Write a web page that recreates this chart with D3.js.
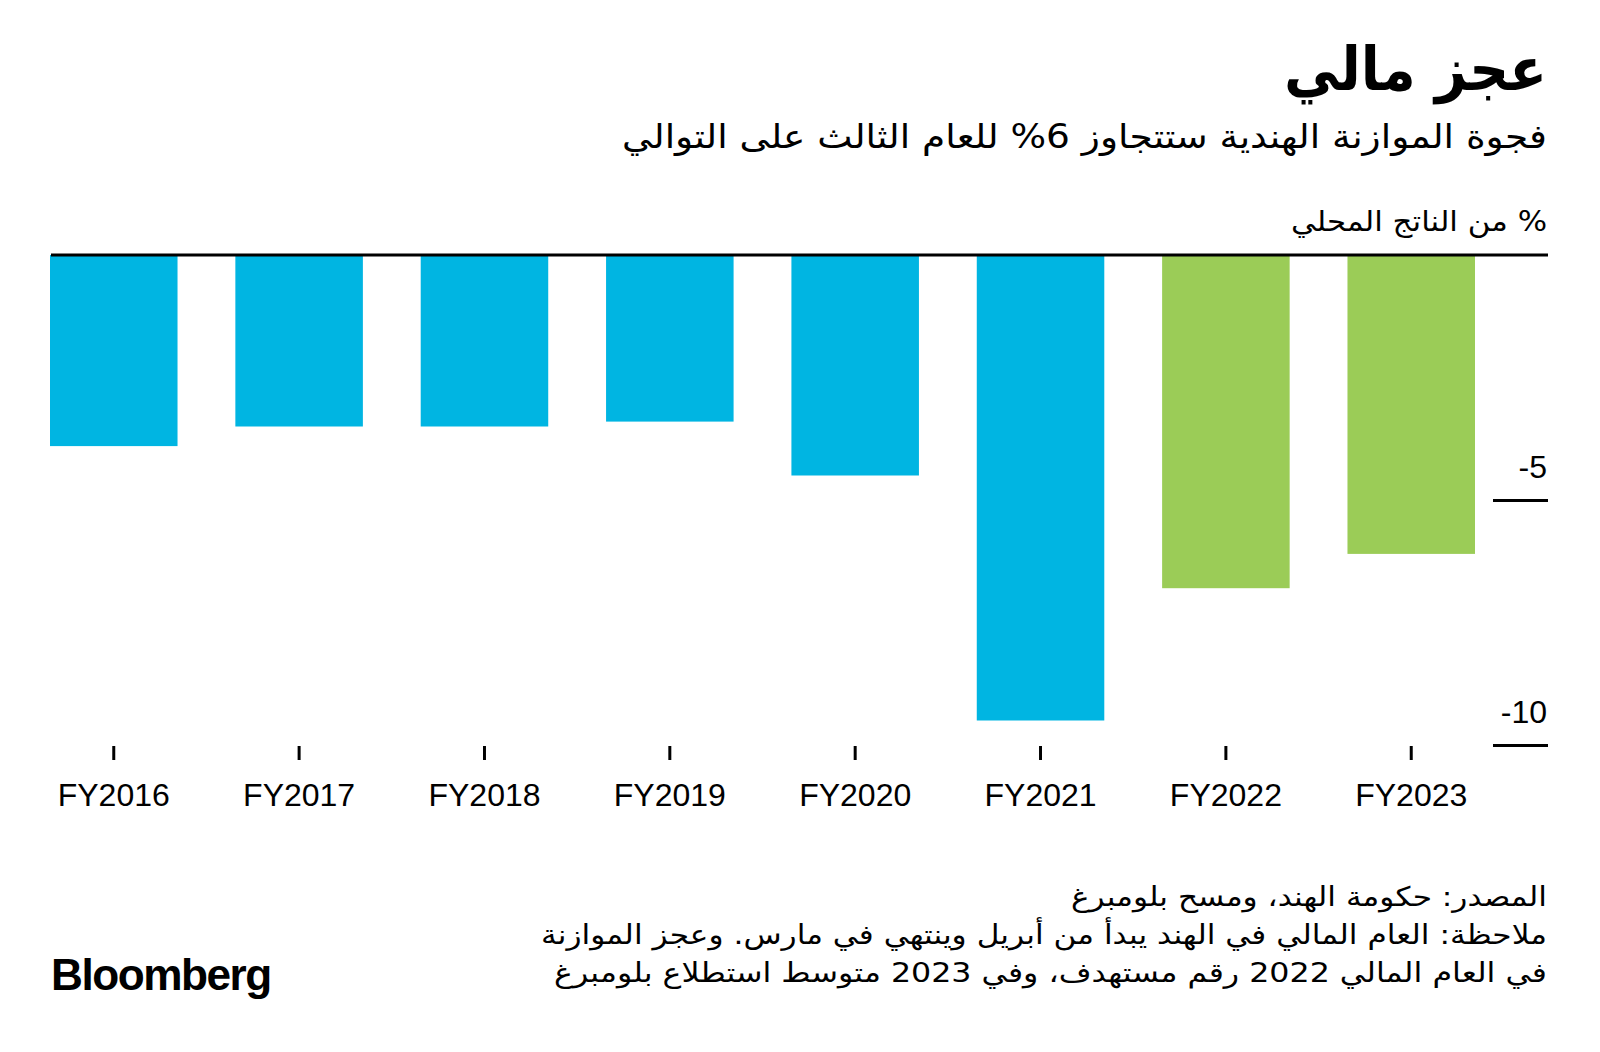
<!DOCTYPE html>
<html lang="ar">
<head>
<meta charset="utf-8">
<script src="https://cdn.jsdelivr.net/npm/d3@7"></script>
<style>
  html, body { margin: 0; padding: 0; background: #fff; }
  svg { display: block; }
  .ar { font-family: "DejaVu Sans", sans-serif; fill: #000; }
  .lat { font-family: "Liberation Sans", Arial, sans-serif; fill: #000; }
</style>
</head>
<body>
<svg id="chart" width="1600" height="1052"></svg>
<script>
// ---- data ----
const categories = ["FY2016", "FY2017", "FY2018", "FY2019", "FY2020", "FY2021", "FY2022", "FY2023"];
const deficit = [-3.9, -3.5, -3.5, -3.4, -4.5, -9.5, -6.8, -6.1];
const seriesKind = ["actual", "actual", "actual", "actual", "actual", "actual", "estimate", "estimate"];
const yTickValues = [-5, -10];
const yTickLabels = ["-5", "-10"];

const titleText = "عجز مالي";
const subtitleText = "فجوة الموازنة الهندية ستتجاوز 6% للعام الثالث على التوالي";
const unitText = "% من الناتج المحلي";
const footerLines = [
  "المصدر: حكومة الهند، ومسح بلومبرغ",
  "ملاحظة: العام المالي في الهند يبدأ من أبريل وينتهي في مارس. وعجز الموازنة",
  "في العام المالي 2022 رقم مستهدف، وفي 2023 متوسط استطلاع بلومبرغ"
];
const brandText = "Bloomberg";

const colors = { actual: "#00b5e2", estimate: "#9bcc57" };

// ---- layout ----
const svg = d3.select("#chart");
const rightEdge = 1548;

const x = d3.scaleBand()
  .domain(categories)
  .range([50, 1475])
  .paddingInner(0.312)
  .paddingOuter(0);

const y = d3.scaleLinear()
  .domain([0, -10])
  .range([255, 745]);

// bars
svg.append("g").selectAll("rect")
  .data(categories.map((c, i) => ({ c, v: deficit[i], k: seriesKind[i] })))
  .join("rect")
  .attr("x", d => x(d.c))
  .attr("width", x.bandwidth())
  .attr("y", d => y(0))
  .attr("height", d => y(d.v) - y(0))
  .attr("fill", d => colors[d.k]);

// zero line
svg.append("line")
  .attr("x1", 51).attr("x2", rightEdge)
  .attr("y1", y(0)).attr("y2", y(0))
  .attr("stroke", "#000").attr("stroke-width", 3);

// y axis (right)
const yAxis = d3.axisLeft(y)
  .tickValues(yTickValues)
  .tickFormat((d, i) => yTickLabels[i])
  .tickSize(55);
const gy = svg.append("g")
  .attr("transform", `translate(${rightEdge},0)`)
  .call(yAxis);
gy.select(".domain").remove();
gy.selectAll(".tick line").attr("stroke", "#000").attr("stroke-width", 3);
gy.selectAll(".tick text")
  .attr("x", -1)
  .attr("dy", null)
  .attr("y", -23)
  .attr("text-anchor", "end")
  .style("font-size", "32px")
  .style("font-family", "'Liberation Sans', Arial, sans-serif")
  .attr("fill", "#000");

// x axis
const xAxis = d3.axisBottom(x).tickSize(14);
const gx = svg.append("g")
  .attr("transform", `translate(0,746)`)
  .call(xAxis);
gx.select(".domain").remove();
gx.selectAll(".tick line").attr("stroke", "#000").attr("stroke-width", 3);
gx.selectAll(".tick text")
  .attr("dy", null)
  .attr("y", 60)
  .style("font-size", "32px")
  .style("font-family", "'Liberation Sans', Arial, sans-serif")
  .attr("fill", "#000");

// ---- text helper: fixed size, stretched to target width, right aligned ----
function placeAr(str, baseline, targetW, size, weight, rightX) {
  const t = svg.append("text")
    .attr("class", "ar")
    .attr("direction", "rtl")
    .attr("y", baseline)
    .attr("x", 0)
    .style("font-size", size + "px")
    .style("font-weight", weight || "normal")
    .attr("textLength", targetW)
    .attr("lengthAdjust", "spacingAndGlyphs")
    .text(str);
  const bb = t.node().getBBox();
  t.attr("x", +t.attr("x") + rightX - (bb.x + bb.width));
  return t;
}

placeAr(titleText, 90, 263, 60, "bold", 1547);
placeAr(subtitleText, 148, 925, 33, "normal", 1547);
placeAr(unitText, 231, 256, 28, "normal", 1547);
const footBase = [906, 944, 982];
const footW = [476, 1006, 993];
footerLines.forEach((s, i) => placeAr(s, footBase[i], footW[i], 27, "normal", 1547));

// brand
const brand = svg.append("text")
  .attr("class", "lat")
  .attr("y", 990)
  .attr("x", 0)
  .style("font-size", "42px")
  .style("font-weight", "900")
  .style("letter-spacing", "-1.5px")
  .text(brandText);
{
  const bb = brand.node().getBBox();
  const fs = 42 * 219 / bb.width;
  brand.style("font-size", fs + "px");
  const bb2 = brand.node().getBBox();
  brand.attr("x", 51 - bb2.x);
}
</script>
</body>
</html>
